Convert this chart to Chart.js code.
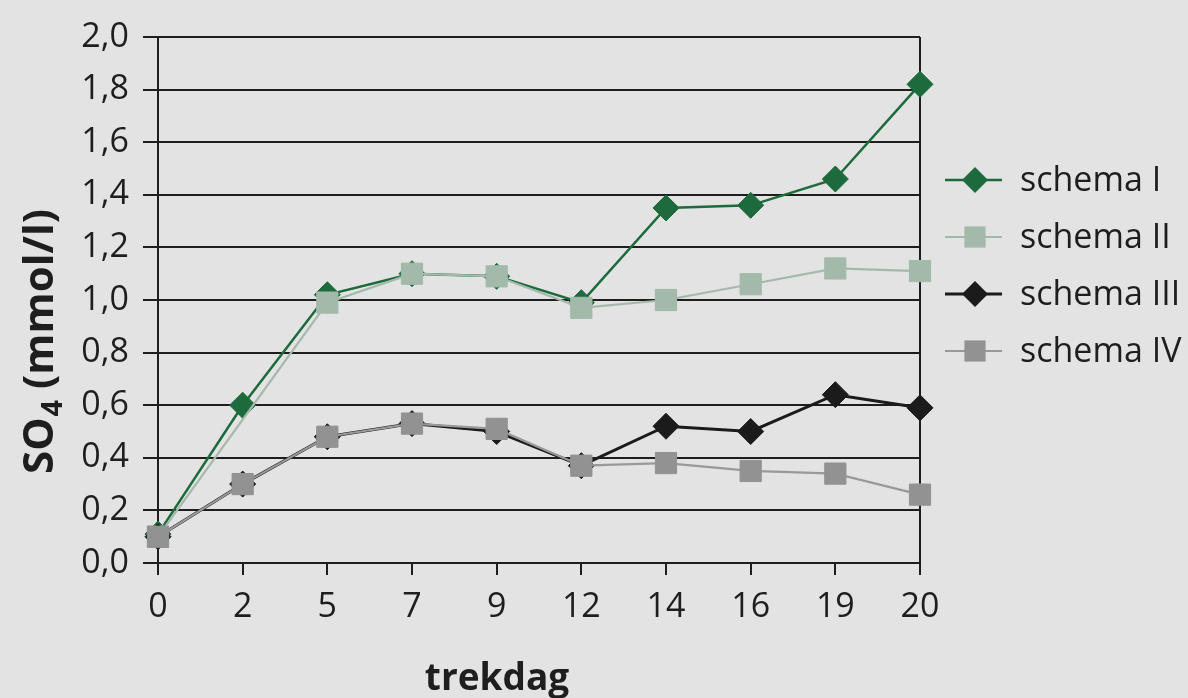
<!DOCTYPE html>
<html>
<head>
<meta charset="utf-8">
<script src="https://cdn.jsdelivr.net/npm/chart.js@4.4.1/dist/chart.umd.min.js"></script>
<style>
  html, body { margin: 0; padding: 0; background: #e2e3e2; }
  #wrap { width: 1188px; height: 698px; }
</style>
</head>
<body>
<div id="wrap"><canvas id="c" width="1188" height="698"></canvas></div>
<script>
const days = ['0', '2', '5', '7', '9', '12', '14', '16', '19', '20'];
const schemaI   = [0.11, 0.60, 1.02, 1.10, 1.09, 0.99, 1.35, 1.36, 1.46, 1.82];
const schemaII  = [0.10, null, 0.99, 1.10, 1.09, 0.97, 1.00, 1.06, 1.12, 1.11];
const schemaIII = [0.10, 0.30, 0.48, 0.53, 0.50, 0.37, 0.52, 0.50, 0.64, 0.59];
const schemaIV  = [0.10, 0.30, 0.48, 0.53, 0.51, 0.37, 0.38, 0.35, 0.34, 0.26];
const seriesNames = ['schema I', 'schema II', 'schema III', 'schema IV'];
const yTickLabels = ['0,0', '0,2', '0,4', '0,6', '0,8', '1,0', '1,2', '1,4', '1,6', '1,8', '2,0'];
const xTitle = 'trekdag';
const yTitleMain = 'SO';
const yTitleSub = '4';
const yTitleRest = ' (mmol/l)';

const FONT = '"Open Sans", "Noto Sans", sans-serif';
const INK = '#1e1e1e';
const BG = '#e2e3e2';

const styles = [
  { color: '#1d6a3c', line: '#1d6a3c', width: 2.5, shape: 'rectRot', r: 13 },
  { color: '#a3baab', line: '#a6b8ac', width: 2.2, shape: 'rect', r: 15 },
  { color: '#1b1b1b', line: '#1b1b1b', width: 3, shape: 'rectRot', r: 13 },
  { color: '#929292', line: '#999999', width: 2.2, shape: 'rect', r: 15 }
];
const seriesData = [schemaI, schemaII, schemaIII, schemaIV];

const datasets = seriesData.map((d, i) => ({
  label: seriesNames[i],
  data: d,
  borderColor: styles[i].line,
  backgroundColor: styles[i].color,
  borderWidth: styles[i].width,
  pointStyle: styles[i].shape,
  pointRadius: styles[i].r,
  pointHoverRadius: styles[i].r,
  pointBackgroundColor: styles[i].color,
  pointBorderColor: styles[i].color,
  pointBorderWidth: 1,
  tension: 0,
  spanGaps: true,
  order: 4 - i
}));

const bgPlugin = {
  id: 'bg',
  beforeDraw(chart) {
    const ctx = chart.ctx;
    ctx.save();
    ctx.fillStyle = BG;
    ctx.fillRect(0, 0, chart.width, chart.height);
    ctx.restore();
  }
};

function drawMarker(ctx, shape, x, y, r, color) {
  ctx.save();
  ctx.fillStyle = color;
  ctx.beginPath();
  if (shape === 'rectRot') {
    ctx.moveTo(x, y - r); ctx.lineTo(x + r, y); ctx.lineTo(x, y + r); ctx.lineTo(x - r, y);
    ctx.closePath();
  } else {
    const s = r * Math.SQRT1_2;
    ctx.rect(x - s, y - s, 2 * s, 2 * s);
  }
  ctx.fill();
  ctx.restore();
}

const textPlugin = {
  id: 'texts',
  afterDraw(chart) {
    const ctx = chart.ctx;
    ctx.save();
    ctx.fillStyle = INK;
    // x title
    ctx.font = 'bold 37px ' + FONT;
    ctx.textAlign = 'center';
    ctx.textBaseline = 'alphabetic';
    ctx.fillText(xTitle, 497, 690);
    // y title with subscript
    ctx.translate(53, 474);
    ctx.rotate(-Math.PI / 2);
    ctx.textAlign = 'left';
    const big = 'bold 42px ' + FONT;
    const small = 'bold 29px ' + FONT;
    ctx.font = big;
    ctx.fillText(yTitleMain, 0, 0);
    let w = ctx.measureText(yTitleMain).width;
    ctx.font = small;
    ctx.fillText(yTitleSub, w + 1, 9);
    w += ctx.measureText(yTitleSub).width + 1;
    ctx.font = big;
    ctx.fillText(yTitleRest, w, 0);
    ctx.restore();

    // legend
    ctx.save();
    const y0 = 180, step = 57;
    chart.data.datasets.forEach((ds, i) => {
      const y = y0 + i * step;
      ctx.strokeStyle = ds.borderColor;
      ctx.lineWidth = ds.borderWidth;
      ctx.beginPath();
      ctx.moveTo(945, y); ctx.lineTo(1002, y);
      ctx.stroke();
      drawMarker(ctx, ds.pointStyle, 975, y, ds.pointRadius, ds.pointBackgroundColor);
      ctx.fillStyle = INK;
      ctx.font = '34px ' + FONT;
      ctx.textAlign = 'left';
      ctx.textBaseline = 'middle';
      ctx.fillText(ds.label, 1020, y + 1);
    });
    ctx.restore();
  }
};

new Chart(document.getElementById('c'), {
  type: 'line',
  data: { labels: days, datasets },
  options: {
    responsive: false,
    animation: false,
    devicePixelRatio: 1,
    layout: { padding: { top: 37, right: 268, bottom: 0, left: 0 } },
    plugins: {
      legend: { display: false },
      tooltip: { enabled: false }
    },
    scales: {
      x: {
        type: 'category',
        offset: false,
        grid: {
          color: (c) => (c.index === days.length - 1 ? INK : 'rgba(0,0,0,0)'),
          tickColor: INK,
          tickLength: 12,
          lineWidth: 2,
          drawOnChartArea: true
        },
        border: { display: true, color: INK, width: 2 },
        ticks: {
          color: INK,
          font: { family: FONT, size: 34 },
          padding: 12,
          maxRotation: 0,
          autoSkip: false
        },
        afterFit: (s) => { s.height = 135; }
      },
      y: {
        min: 0,
        max: 2,
        grid: { color: INK, tickColor: INK, tickLength: 15, lineWidth: 2 },
        border: { display: true, color: INK, width: 2 },
        ticks: {
          stepSize: 0.2,
          color: INK,
          padding: 14,
          font: { family: FONT, size: 34 },
          callback: (v, i) => yTickLabels[i]
        },
        afterFit: (s) => { s.width = 158; }
      }
    }
  },
  plugins: [bgPlugin, textPlugin]
});
</script>
</body>
</html>
